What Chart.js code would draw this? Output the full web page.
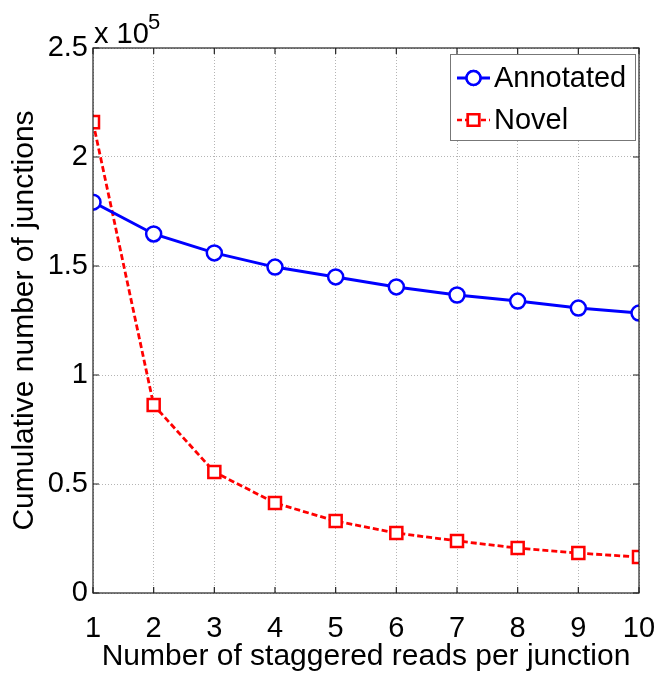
<!DOCTYPE html>
<html>
<head>
<meta charset="utf-8">
<script src="https://cdn.jsdelivr.net/npm/chart.js@4/dist/chart.umd.min.js"></script>
<style>
  html, body { margin: 0; padding: 0; background: #fff; }
  #wrap { width: 659px; height: 673px; position: relative; }
</style>
</head>
<body>
<div id="wrap"><canvas id="c" width="659" height="673"></canvas></div>
<script>
  "use strict";

  var readsPerJunction = [1, 2, 3, 4, 5, 6, 7, 8, 9, 10];
  var annotated = [179300, 164700, 156000, 149500, 145000, 140400, 136700, 133900, 130700, 128400];
  var novel = [216000, 86200, 55500, 41300, 33000, 27500, 23900, 20600, 18300, 16500];
  var yTicks = [0, 50000, 100000, 150000, 200000, 250000];
  var seriesNames = ["Annotated", "Novel"];

  var FONT = "'Liberation Sans', Arial, Helvetica, sans-serif";
  var FS = 29;

  function pts(ys) {
    return readsPerJunction.map(function (x, i) {
      return { x: x, y: ys[i] };
    });
  }

  // box, inward ticks, exponent label, legend
  var decor = {
    id: "decor",
    afterDraw: function (chart) {
      var ctx = chart.ctx;
      var a = chart.chartArea;
      var sx = chart.scales.x, sy = chart.scales.y;
      ctx.save();
      ctx.strokeStyle = "#222";
      ctx.lineWidth = 1.2;
      ctx.strokeRect(a.left, a.top, a.right - a.left, a.bottom - a.top);

      ctx.beginPath();
      readsPerJunction.forEach(function (v) {
        var px = sx.getPixelForValue(v);
        ctx.moveTo(px, a.bottom); ctx.lineTo(px, a.bottom - 6);
        ctx.moveTo(px, a.top); ctx.lineTo(px, a.top + 6);
      });
      yTicks.forEach(function (v) {
        var py = sy.getPixelForValue(v);
        ctx.moveTo(a.left, py); ctx.lineTo(a.left + 6, py);
        ctx.moveTo(a.right, py); ctx.lineTo(a.right - 6, py);
      });
      ctx.stroke();

      // x 10^5
      ctx.fillStyle = "#000";
      ctx.textBaseline = "alphabetic";
      ctx.textAlign = "left";
      ctx.font = FS + "px " + FONT;
      ctx.fillText("x 10", a.left + 1, 43);
      ctx.font = "22px " + FONT;
      ctx.fillText("5", 148, 29);

      // legend
      var lx = 450, ly = 54, lw = 185, lh = 86;
      ctx.fillStyle = "#fff";
      ctx.fillRect(lx, ly, lw, lh);
      ctx.strokeStyle = "#777";
      ctx.lineWidth = 1;
      ctx.strokeRect(lx + 0.5, ly + 0.5, lw, lh);
      var rows = [
        { name: seriesNames[0], color: "#0000ff", dash: [], style: "circle", r: 7, y: 78 },
        { name: seriesNames[1], color: "#ff0000", dash: [5, 3], style: "rect", r: 8, y: 120 }
      ];
      rows.forEach(function (r) {
        ctx.strokeStyle = r.color;
        ctx.lineWidth = r.dash.length ? 2.5 : 3;
        ctx.setLineDash(r.dash);
        ctx.beginPath();
        ctx.moveTo(lx + 7, r.y); ctx.lineTo(lx + 40, r.y);
        ctx.stroke();
        ctx.setLineDash([]);
        ctx.fillStyle = "#fff";
        ctx.lineWidth = 2.5;
        Chart.helpers.drawPoint(ctx, { pointStyle: r.style, radius: r.r, borderWidth: 2.5 }, lx + 23.5, r.y);
        ctx.fill();
        ctx.stroke();
        ctx.fillStyle = "#000";
        ctx.font = FS + "px " + FONT;
        ctx.textBaseline = "middle";
        ctx.fillText(r.name, lx + 44, r.y + 1);
      });
      ctx.restore();
    }
  };

  var gridStyle = {
    color: "#b4b4b4",
    lineWidth: 1,
    drawTicks: false
  };

  new Chart(document.getElementById("c"), {
    type: "line",
    data: {
      datasets: [
        {
          label: seriesNames[0],
          data: pts(annotated),
          borderColor: "#0000ff",
          backgroundColor: "#fff",
          borderWidth: 3,
          pointStyle: "circle",
          pointRadius: 7.5,
          pointBorderWidth: 2.5,
          pointBackgroundColor: "#fff",
          tension: 0
        },
        {
          label: seriesNames[1],
          data: pts(novel),
          borderColor: "#ff0000",
          backgroundColor: "#fff",
          borderWidth: 2.8,
          borderDash: [6, 3],
          pointStyle: "rect",
          pointRadius: 8.5,
          pointBorderWidth: 2.5,
          pointBackgroundColor: "#fff",
          tension: 0
        }
      ]
    },
    options: {
      responsive: false,
      animation: false,
      layout: { padding: { top: 48, right: 20, left: 0, bottom: 0 } },
      plugins: {
        legend: { display: false },
        tooltip: { enabled: false }
      },
      scales: {
        x: {
          type: "linear",
          min: 1,
          max: 10,
          afterBuildTicks: function (s) {
            s.ticks = readsPerJunction.map(function (v) { return { value: v }; });
          },
          afterFit: function (s) {
            s.height = 80;
            s.paddingLeft = 0;
            s.paddingRight = 0;
          },
          grid: gridStyle,
          border: { display: false, dash: [1, 2] },
          ticks: {
            color: "#000",
            font: { family: FONT, size: FS },
            padding: 19,
            maxRotation: 0
          },
          title: {
            display: true,
            text: "Number of staggered reads per junction",
            color: "#000",
            font: { family: FONT, size: 30 },
            padding: { top: 0, bottom: -2 }
          }
        },
        y: {
          min: 0,
          max: 250000,
          afterBuildTicks: function (s) {
            s.ticks = yTicks.map(function (v) { return { value: v }; });
          },
          afterFit: function (s) {
            s.width = 93;
            s.paddingTop = 0;
            s.paddingBottom = 0;
          },
          grid: gridStyle,
          border: { display: false, dash: [1, 2] },
          ticks: {
            color: "#000",
            font: { family: FONT, size: FS },
            padding: 5,
            callback: function (v) { return String(v / 100000); }
          },
          title: {
            display: true,
            text: "Cumulative number of junctions",
            color: "#000",
            font: { family: FONT, size: 30 },
            padding: { top: 7, bottom: 0 }
          }
        }
      }
    },
    plugins: [decor]
  });
</script>
</body>
</html>
